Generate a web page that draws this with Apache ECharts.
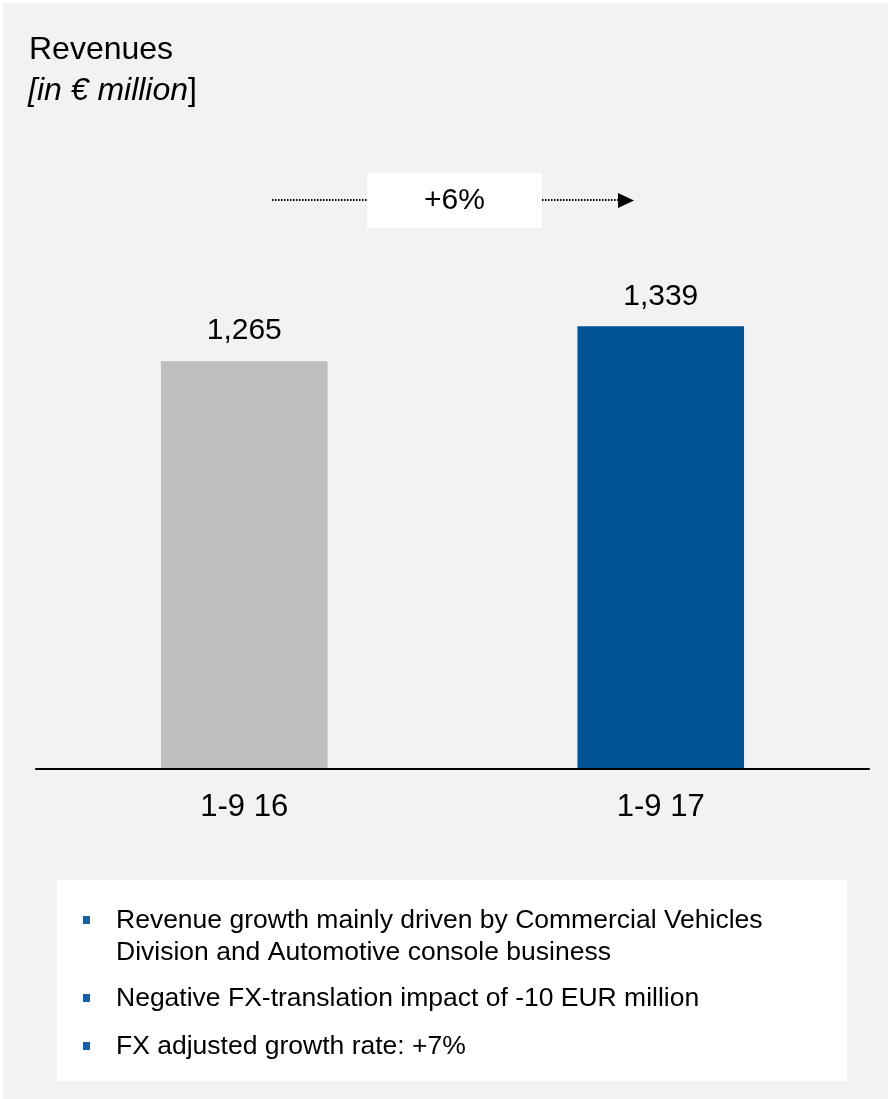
<!DOCTYPE html>
<html>
<head>
<meta charset="utf-8">
<title>Revenues</title>
<script src="https://cdn.jsdelivr.net/npm/echarts@6/dist/echarts.min.js"></script>
<style>
  html, body { margin: 0; padding: 0; background: #ffffff; }
  #chart { width: 888px; height: 1099px; }
</style>
</head>
<body>
<div id="chart"></div>
<script>
// Revenues by period, in EUR million
const categories = ['1-9 16', '1-9 17'];
const revenues = [1265, 1339];
const barColors = ['#bfbfbf', '#005293'];
const growthLabel = '+6%';
const titleText = 'Revenues';
const unitText = '[in € million';
const bullets = [
  ['Revenue growth mainly driven by Commercial Vehicles', 'Division and Automotive console business'],
  ['Negative FX-translation impact of -10 EUR million'],
  ['FX adjusted growth rate: +7%']
];

const FONT = '"Liberation Sans", Arial, Helvetica, sans-serif';
const chart = echarts.init(document.getElementById('chart'), null, { renderer: 'canvas' });

// Bullet list elements: blue square + text lines
const bulletLineY = [921, 953, 999, 1047];
const bulletGraphics = [];
let lineIdx = 0;
bullets.forEach(function (para) {
  bulletGraphics.push({
    type: 'rect',
    shape: { x: 83, y: bulletLineY[lineIdx] - 5, width: 7, height: 8 },
    style: { fill: '#1a5fa6' },
    z: 12
  });
  para.forEach(function (line) {
    bulletGraphics.push({
      type: 'text',
      style: {
        x: 116, y: bulletLineY[lineIdx], text: line,
        font: '26.5px ' + FONT, fill: '#000000',
        verticalAlign: 'middle', align: 'left'
      },
      z: 12
    });
    lineIdx++;
  });
});

const option = {
  animation: false,
  backgroundColor: '#ffffff',
  grid: { left: 36, right: 19, top: 109, bottom: 330 },
  xAxis: {
    type: 'category',
    data: categories,
    axisLine: { show: true, lineStyle: { color: '#000000', width: 2 } },
    axisTick: { show: false },
    axisLabel: {
      color: '#000000', fontSize: 31, fontFamily: FONT,
      margin: 23, lineHeight: 31
    },
    z: 5
  },
  yAxis: {
    type: 'value',
    min: 400,
    max: 1800,
    show: false,
    splitLine: { show: false }
  },
  series: [{
    type: 'bar',
    barWidth: '40%',
    data: revenues.map(function (v, i) {
      return { value: v, itemStyle: { color: barColors[i] } };
    }),
    label: {
      show: true,
      position: 'top',
      distance: 15,
      color: '#000000',
      fontSize: 30,
      fontFamily: FONT,
      lineHeight: 30,
      formatter: function (p) { return p.value.toLocaleString('en-US'); }
    },
    z: 3
  }],
  graphic: [
    // light grey panel
    {
      type: 'rect', z: -10, silent: true,
      shape: { x: 3, y: 3, width: 885, height: 1096 },
      style: { fill: '#f2f2f2' }
    },
    // title
    {
      type: 'text', z: 10,
      style: {
        x: 29, y: 50, text: titleText,
        font: '32px ' + FONT, fill: '#000000', verticalAlign: 'middle'
      }
    },
    {
      type: 'text', z: 10,
      style: {
        x: 28, y: 91,
        text: '{i|' + unitText + '}{n|]}',
        verticalAlign: 'middle',
        rich: {
          i: { fontStyle: 'italic', fontSize: 32, fontFamily: FONT, color: '#000000' },
          n: { fontSize: 32, fontFamily: FONT, color: '#000000' }
        }
      }
    },
    // growth arrow: dotted lines, label box, arrow head
    {
      type: 'line', z: 10,
      shape: { x1: 272, y1: 200, x2: 367, y2: 200 },
      style: { stroke: '#000000', lineWidth: 2, lineDash: [1.5, 1.5] }
    },
    {
      type: 'line', z: 10,
      shape: { x1: 542, y1: 200, x2: 619, y2: 200 },
      style: { stroke: '#000000', lineWidth: 2, lineDash: [1.5, 1.5] }
    },
    {
      type: 'polygon', z: 10,
      shape: { points: [[618, 193], [634, 200.5], [618, 208]] },
      style: { fill: '#000000' }
    },
    {
      type: 'rect', z: 10,
      shape: { x: 367, y: 173, width: 175, height: 55 },
      style: { fill: '#ffffff' }
    },
    {
      type: 'text', z: 11,
      style: {
        x: 454.5, y: 201, text: growthLabel,
        font: '30px ' + FONT, fill: '#000000',
        align: 'center', verticalAlign: 'middle'
      }
    },
    // commentary box
    {
      type: 'rect', z: 10,
      shape: { x: 57, y: 880, width: 790, height: 201 },
      style: { fill: '#ffffff' }
    }
  ].concat(bulletGraphics)
};

chart.setOption(option);
</script>
</body>
</html>
